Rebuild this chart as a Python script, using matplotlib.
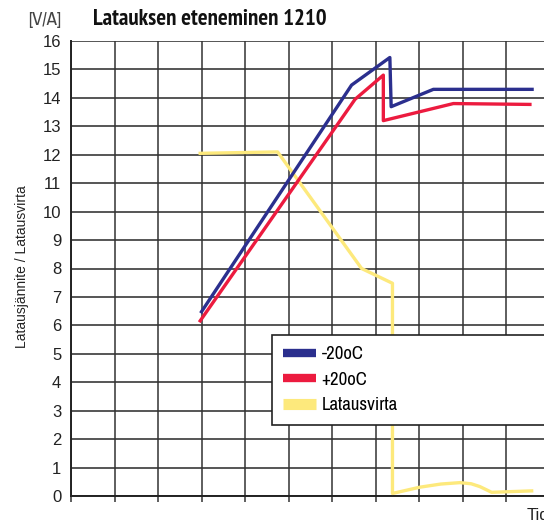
import matplotlib
matplotlib.use("Agg")
import matplotlib.pyplot as plt
from matplotlib.lines import Line2D

# values (x = time in grid units, y = V or A)
blue_x = [3.0, 6.45, 7.33, 7.36, 8.33, 10.6]
blue_y = [6.48, 14.45, 15.42, 13.69, 14.3, 14.3]

red_x = [2.97, 6.53, 7.18, 7.18, 8.79, 10.55]
red_y = [6.16, 13.95, 14.8, 13.2, 13.8, 13.77]

yellow_x = [2.97, 4.75, 6.68, 7.39, 7.39, 8.02, 8.5, 8.94, 9.2, 9.4, 9.67, 10.59]
yellow_y = [12.05, 12.1, 8.0, 7.48, 0.09, 0.31, 0.42, 0.47, 0.43, 0.33, 0.13, 0.18]

labels = ["-20oC", "+20oC", "Latausvirta"]
colors = ["#2b2f8e", "#ec1b3f", "#fde97c"]

y_ticks = list(range(0, 17))
x_grid = list(range(0, 11))

narrow = ["Archivo Narrow", "PT Sans Narrow", "DejaVu Sans"]
title_font = ["PT Sans Narrow", "DejaVu Sans"]
regular = ["Liberation Sans", "DejaVu Sans"]

fig = plt.figure(figsize=(5.44, 5.23), dpi=100)
# axes runs slightly past the right edge of the picture, like the original
ax = fig.add_axes([71 / 544, 27 / 523, 478.5 / 544, 455 / 523])

ax.set_xlim(0, 11)
ax.set_ylim(0, 16)

# grid
for v in y_ticks:
    ax.axhline(v, color="#555555", lw=1.4, zorder=1)
for v in x_grid:
    ax.axvline(v, color="#333333", lw=1.1, zorder=1)

ax.plot(yellow_x, yellow_y, color=colors[2], lw=2.4, zorder=3)
ax.plot(red_x, red_y, color=colors[1], lw=2.4, zorder=4)
ax.plot(blue_x, blue_y, color=colors[0], lw=2.4, zorder=5)

ax.set_yticks(y_ticks)
ax.set_yticklabels([str(v) for v in y_ticks], fontsize=12, family=regular, color="#222222")
ax.set_xticks(x_grid)
ax.set_xticklabels([])
ax.tick_params(axis="y", length=0, pad=7)
ax.tick_params(axis="x", length=4.5, width=1.1, direction="out", color="#333333")

for s in ["right", "top"]:
    ax.spines[s].set_visible(False)
for s in ["left", "bottom"]:
    ax.spines[s].set_color("#222222")
    ax.spines[s].set_linewidth(1.4)

handles = [
    Line2D([], [], color=colors[0], lw=6, solid_capstyle="butt"),
    Line2D([], [], color=colors[1], lw=6, solid_capstyle="butt"),
    Line2D([], [], color=colors[2], lw=8, solid_capstyle="butt"),
]
leg = ax.legend(handles, labels, loc="upper left",
                bbox_to_anchor=(0.4195, 0.16, 0.7, 0.194), mode="expand",
                borderaxespad=0, fancybox=False, framealpha=1,
                prop={"family": narrow, "size": 13.5},
                handlelength=1.75, handletextpad=0.3, labelspacing=0.5,
                borderpad=0.6)
leg.get_frame().set_edgecolor("#222222")
leg.get_frame().set_linewidth(1.2)
leg.set_zorder(10)

fig.text(93 / 544, 0.952, "Latauksen eteneminen 1210", fontsize=16.5,
         fontweight="bold", family=title_font, color="#111111", va="baseline")
fig.text(28 / 544, 0.952, "[V/A]", fontsize=13.5, family=narrow,
         color="#444444", va="baseline")
fig.text(0.04, 0.491, "Latausjännite / Latausvirta", rotation=90,
         fontsize=10, family=regular, color="#222222", ha="center", va="center")
fig.text(527 / 544, 15 / 523, "Tid", fontsize=12, family=regular,
         color="#222222", va="top")

fig.savefig("out.png", dpi=100)
